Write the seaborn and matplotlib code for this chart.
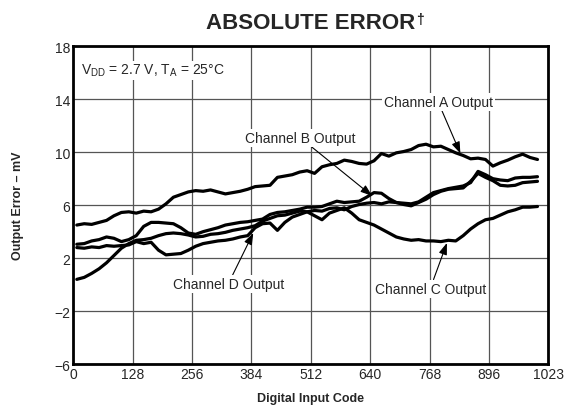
import numpy as np
import pandas as pd
import matplotlib
matplotlib.use("Agg")
import matplotlib.pyplot as plt
import seaborn as sns

# Input codes where the traces were sampled
codes = [8, 24, 40, 56, 72, 88, 104, 120, 136, 152, 168, 184, 200, 216, 232, 248,
         264, 280, 296, 312, 328, 344, 360, 376, 392, 408, 424, 440, 456, 472, 488,
         504, 520, 536, 552, 568, 584, 600, 616, 632, 648, 664, 680, 696, 712, 728,
         744, 760, 776, 792, 808, 824, 840, 856, 872, 888, 904, 920, 936, 952, 968,
         984, 1000]

# Output error (mV)
chan_a = [4.5, 4.6, 4.55, 4.7, 4.85, 5.2, 5.45, 5.5, 5.4, 5.55,
          5.5, 5.7, 6.1, 6.6, 6.8, 7.0, 7.1, 7.05, 7.15, 7.0,
          6.85, 6.95, 7.05, 7.2, 7.4, 7.45, 7.5, 8.1, 8.2, 8.3,
          8.5, 8.6, 8.4, 8.9, 9.05, 9.15, 9.4, 9.3, 9.15, 9.1,
          9.35, 9.9, 9.7, 9.95, 10.05, 10.2, 10.5, 10.6, 10.4, 10.45,
          10.2, 9.95, 9.75, 9.5, 9.55, 9.45, 8.95, 9.2, 9.4, 9.65,
          9.85, 9.6, 9.45]
chan_b = [3.05, 3.1, 3.3, 3.4, 3.6, 3.5, 3.25, 3.4, 3.7, 4.4,
          4.7, 4.7, 4.65, 4.6, 4.3, 3.9, 3.8, 4.0, 4.15, 4.3,
          4.5, 4.6, 4.7, 4.75, 4.85, 4.95, 5.3, 5.45, 5.5, 5.6,
          5.7, 5.85, 5.85, 5.9, 6.1, 6.3, 6.2, 6.25, 6.3, 6.6,
          6.95, 6.9, 6.5, 6.2, 6.05, 5.95, 6.2, 6.45, 6.8, 7.05,
          7.2, 7.25, 7.3, 7.8, 8.4, 8.1, 7.85, 7.5, 7.45, 7.5,
          7.7, 7.75, 7.8]
chan_c = [2.8, 2.75, 2.85, 2.8, 2.95, 2.9, 2.95, 3.0, 3.25, 3.1,
          3.2, 2.6, 2.25, 2.3, 2.35, 2.6, 2.9, 3.1, 3.2, 3.3,
          3.35, 3.45, 3.6, 3.7, 4.3, 4.6, 4.65, 4.1, 4.7, 5.1,
          5.3, 5.5, 5.2, 4.9, 5.4, 5.6, 5.8, 5.4, 4.9, 4.7,
          4.5, 4.2, 3.9, 3.6, 3.45, 3.35, 3.4, 3.3, 3.3, 3.25,
          3.35, 3.3, 3.7, 4.2, 4.6, 4.9, 5.0, 5.25, 5.5, 5.65,
          5.85, 5.85, 5.9]
chan_d = [0.4, 0.55, 0.85, 1.2, 1.65, 2.2, 2.75, 3.1, 3.35, 3.4,
          3.5, 3.7, 3.85, 3.9, 3.85, 3.75, 3.6, 3.65, 3.8, 3.85,
          3.95, 4.1, 4.2, 4.3, 4.45, 4.8, 5.0, 5.2, 5.25, 5.4,
          5.55, 5.5, 5.6, 5.55, 5.75, 5.8, 5.65, 5.9, 6.05, 6.15,
          6.2, 6.1, 6.25, 6.2, 6.15, 6.1, 6.25, 6.6, 6.95, 7.1,
          7.25, 7.35, 7.45, 7.7, 8.55, 8.3, 8.0, 7.9, 7.85, 8.05,
          8.1, 8.1, 8.15]

x_ticks = [0, 128, 256, 384, 512, 640, 768, 896, 1023]
y_ticks = [-6, -2, 2, 6, 10, 14, 18]

df = pd.concat([
    pd.DataFrame({"code": codes, "error": vals, "channel": name})
    for name, vals in [("A", chan_a), ("B", chan_b), ("C", chan_c), ("D", chan_d)]
])

sns.set_style("white")
plt.rcParams["font.family"] = ["Liberation Sans", "DejaVu Sans"]
plt.rcParams["mathtext.default"] = "regular"

fig = plt.figure(figsize=(5.71, 4.14), dpi=100)
ax = fig.add_axes([0.128, 0.118, 0.832, 0.768])

sns.lineplot(data=df, x="code", y="error", hue="channel",
             palette=["black"] * 4, linewidth=2.3, legend=False, ax=ax)

ax.set_xlim(0, 1023)
ax.set_ylim(-6, 18)
ax.set_xticks(x_ticks)
ax.set_yticks(y_ticks)
ax.set_yticklabels([str(v).replace("-", "\u2212") for v in y_ticks])
ax.tick_params(length=0, labelsize=10, pad=2)
ax.grid(True, color="#555555", linewidth=0.9)
ax.set_axisbelow(True)
for s in ax.spines.values():
    s.set_linewidth(2)
    s.set_color("black")

ax.set_xlabel("Digital Input Code", fontsize=9, weight="bold", labelpad=8)
ax.set_ylabel("Output Error \u2013 mV", fontsize=9, weight="bold", labelpad=22)

title = ax.set_title("ABSOLUTE ERROR", fontsize=16, weight="bold", pad=13)
ax.annotate("\u2020", xy=(1, 1), xycoords=title, xytext=(0.5, 0),
            textcoords="offset points", ha="left", va="top",
            fontsize=10, weight="bold")

ax.text(0.017, 0.95, "V$_{DD}$ = 2.7 V, T$_{A}$ = 25\u00b0C",
        transform=ax.transAxes, fontsize=10, va="top", ha="left",
        bbox=dict(facecolor="white", edgecolor="none", pad=1))

arrow = dict(arrowstyle="-|>,head_length=0.7,head_width=0.25",
             color="black", lw=0.8, shrinkA=0, shrinkB=0)
box = dict(facecolor="white", edgecolor="none", pad=1.5)

ax.annotate("Channel A Output", xy=(834, 9.9), xytext=(786, 13.8),
            ha="center", va="center", fontsize=10, bbox=box,
            arrowprops=arrow)
ax.annotate("Channel B Output", xy=(644, 6.7), xytext=(489, 11.1),
            ha="center", va="center", fontsize=10, bbox=box,
            arrowprops=arrow)
ax.annotate("Channel D Output", xy=(388, 3.9), xytext=(334, 0.05),
            ha="center", va="center", fontsize=10, bbox=box,
            arrowprops=arrow)
ax.annotate("Channel C Output", xy=(805, 3.15), xytext=(769, -0.3),
            ha="center", va="center", fontsize=10, bbox=box,
            arrowprops=arrow)

fig.savefig("out.png", dpi=100)
